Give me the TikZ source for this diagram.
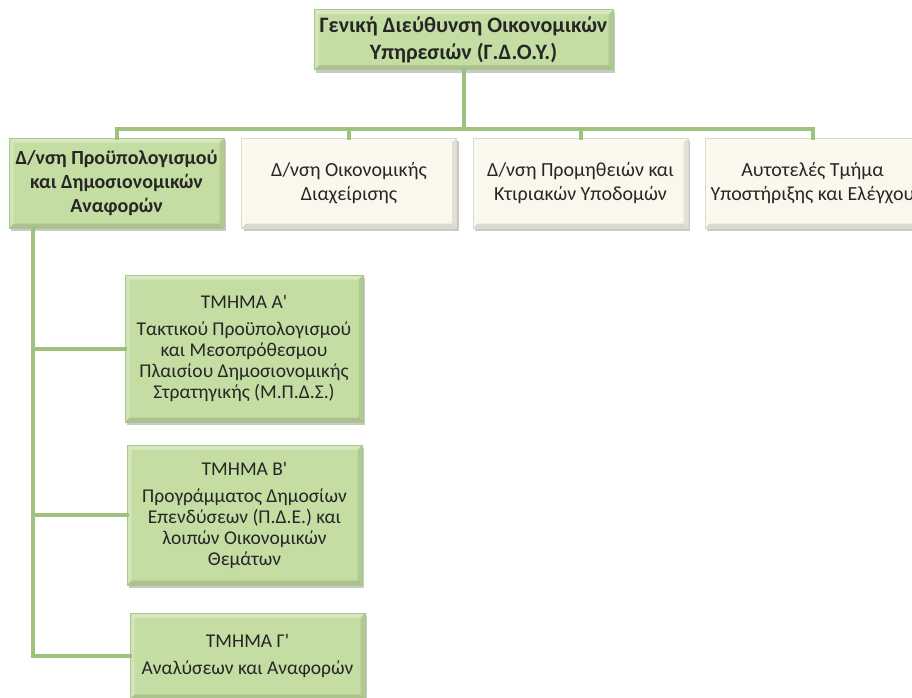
\documentclass[tikz,border=0pt]{standalone}
\usepackage{fontspec}
\newfontfamily\carl{Carlito}
\usetikzlibrary{shadows}
\definecolor{gfill}{HTML}{C3DDA2}
\definecolor{gedge}{HTML}{A9C78A}
\definecolor{cfill}{HTML}{FAF8EC}
\definecolor{cedge}{HTML}{DCDACB}
\definecolor{lcol}{HTML}{9EC17B}
\definecolor{txt}{HTML}{262626}
\newcommand{\bvl}{4.5pt}
\tikzset{
  bevel/.style={path picture={
    \fill[white, opacity=0.35] (path picture bounding box.north west) -- (path picture bounding box.north east)
      -- ([xshift=-\bvl,yshift=-\bvl]path picture bounding box.north east) -- ([xshift=\bvl,yshift=-\bvl]path picture bounding box.north west) -- cycle;
    \fill[white, opacity=0.25] (path picture bounding box.north west) -- ([xshift=\bvl,yshift=-\bvl]path picture bounding box.north west)
      -- ([xshift=\bvl,yshift=\bvl]path picture bounding box.south west) -- (path picture bounding box.south west) -- cycle;
    \fill[black, opacity=0.12] (path picture bounding box.south west) -- (path picture bounding box.south east)
      -- ([xshift=-\bvl,yshift=\bvl]path picture bounding box.south east) -- ([xshift=\bvl,yshift=\bvl]path picture bounding box.south west) -- cycle;
    \fill[black, opacity=0.09] (path picture bounding box.north east) -- ([xshift=-\bvl,yshift=-\bvl]path picture bounding box.north east)
      -- ([xshift=-\bvl,yshift=\bvl]path picture bounding box.south east) -- (path picture bounding box.south east) -- cycle;
  }},
  basebox/.style={rectangle, align=center, inner sep=0pt, line width=1pt, bevel,
    text=txt, font=\carl\fontsize{19.5}{21}\selectfont,
    drop shadow={shadow xshift=2pt, shadow yshift=-3pt, opacity=0.3, fill=black!70}},
  gbox/.style={basebox, fill=gfill, draw=gedge},
  cbox/.style={basebox, fill=cfill, draw=cedge},
  conn/.style={draw=lcol, line width=4pt, line cap=rect}
}
\begin{document}
\begin{tikzpicture}[x=1pt,y=-1pt]
\useasboundingbox (0,0) rectangle (912,698);
\node[gbox, minimum width=299, minimum height=60, font=\carl\bfseries\fontsize{22}{27}\selectfont] (top) at (463.5,40)
  {Γενική Διεύθυνση Οικονομικών\\Υπηρεσιών (Γ.Δ.Ο.Υ.)};
\node[gbox, minimum width=215, minimum height=90, font=\carl\bfseries\fontsize{20}{24}\selectfont] (b1) at (116.5,183)
  {Δ/νση Προϋπολογισμού\\και Δημοσιονομικών\\Αναφορών};
\node[cbox, minimum width=215, minimum height=90, font=\carl\fontsize{20}{24}\selectfont] (b2) at (349,183)
  {Δ/νση Οικονομικής\\Διαχείρισης};
\node[cbox, minimum width=215, minimum height=90, font=\carl\fontsize{20}{24}\selectfont] (b3) at (580.5,183)
  {Δ/νση Προμηθειών και\\Κτιριακών Υποδομών};
\node[cbox, minimum width=215, minimum height=90, font=\carl\fontsize{20}{24}\selectfont] (b4) at (812.5,183)
  {Αυτοτελές Τμήμα\\Υποστήριξης και Ελέγχου};
\node[gbox, minimum width=238, minimum height=147] (A) at (244,348.5)
  {ΤΜΗΜΑ Α'\\[6pt]Τακτικού Προϋπολογισμού\\και Μεσοπρόθεσμου\\Πλαισίου Δημοσιονομικής\\Στρατηγικής (Μ.Π.Δ.Σ.)};
\node[gbox, minimum width=235, minimum height=140] (B) at (244.5,515)
  {ΤΜΗΜΑ Β'\\[6pt]Προγράμματος Δημοσίων\\Επενδύσεων (Π.Δ.Ε.) και\\λοιπών Οικονομικών\\Θεμάτων};
\node[gbox, minimum width=235, minimum height=86] (C) at (247.5,656)
  {ΤΜΗΜΑ Γ'\\[6pt]Αναλύσεων και Αναφορών};
% connectors
\coordinate (bar) at (463.5,129);
\draw[conn] (top.south) -- (bar);
\draw[conn] (b1.north) |- (bar) -| (b4.north);
\draw[conn] (b2.north) -- (b2.north |- bar);
\draw[conn] (b3.north) -- (b3.north |- bar);
\coordinate (sp) at (33,228);
\draw[conn] (sp) |- (C.west);
\draw[conn] (sp |- A.west) -- (A.west);
\draw[conn] (sp |- B.west) -- (B.west);
\end{tikzpicture}
\end{document}
